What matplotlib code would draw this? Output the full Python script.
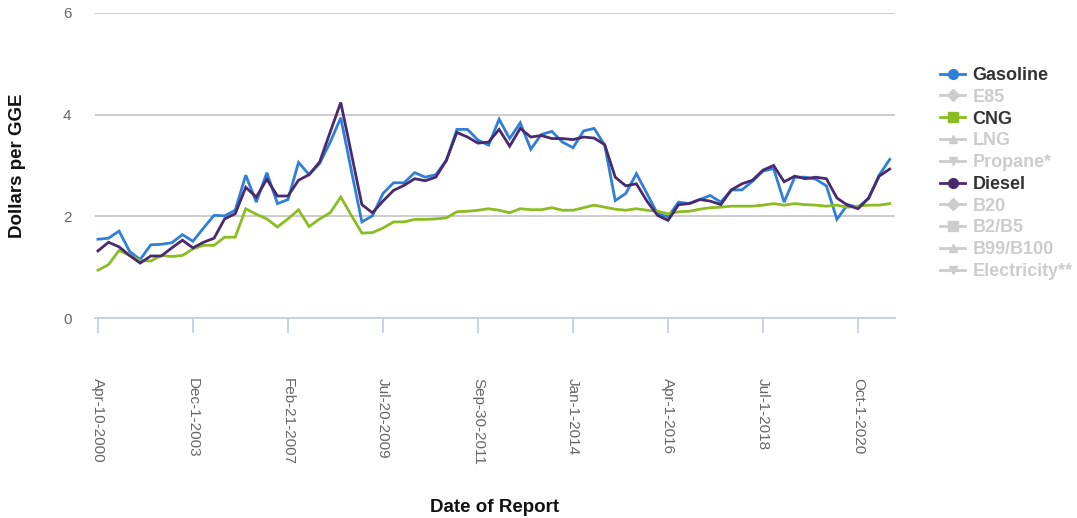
import numpy as np
import matplotlib
matplotlib.use("Agg")
import matplotlib.pyplot as plt
from matplotlib.lines import Line2D

plt.rcParams['font.family'] = ['Liberation Sans', 'DejaVu Sans']

# Alternative fuel price report, dollars per gasoline gallon equivalent
tick_labels = ["Apr-10-2000", "Dec-1-2003", "Feb-21-2007", "Jul-20-2009", "Sep-30-2011",
               "Jan-1-2014", "Apr-1-2016", "Jul-1-2018", "Oct-1-2020"]
tick_step = 9

gasoline = [1.55, 1.57, 1.71, 1.31, 1.15, 1.44, 1.45, 1.48, 1.64, 1.51,
            1.77, 2.02, 2.01, 2.12, 2.81, 2.28, 2.86, 2.25, 2.33, 3.06,
            2.82, 3.04, 3.46, 3.94, 2.90, 1.89, 2.01, 2.45, 2.66, 2.66,
            2.86, 2.77, 2.82, 3.10, 3.71, 3.71, 3.50, 3.40, 3.91, 3.53,
            3.84, 3.32, 3.61, 3.67, 3.46, 3.35, 3.68, 3.73, 3.40, 2.31,
            2.45, 2.84, 2.45, 2.05, 1.99, 2.28, 2.25, 2.33, 2.41, 2.28,
            2.52, 2.52, 2.69, 2.89, 2.94, 2.28, 2.77, 2.77, 2.73, 2.60,
            1.94, 2.23, 2.18, 2.35, 2.81, 3.12]

cng = [0.94, 1.05, 1.33, 1.23, 1.13, 1.12, 1.23, 1.21, 1.23, 1.36,
       1.43, 1.43, 1.59, 1.59, 2.15, 2.04, 1.95, 1.79, 1.95, 2.13,
       1.80, 1.95, 2.07, 2.38, 2.02, 1.67, 1.68, 1.77, 1.89, 1.89,
       1.94, 1.94, 1.95, 1.97, 2.09, 2.10, 2.12, 2.15, 2.12, 2.07,
       2.15, 2.13, 2.13, 2.17, 2.12, 2.12, 2.17, 2.22, 2.18, 2.14,
       2.12, 2.15, 2.12, 2.10, 2.05, 2.09, 2.10, 2.14, 2.17, 2.18,
       2.20, 2.20, 2.20, 2.22, 2.25, 2.22, 2.25, 2.23, 2.22, 2.20,
       2.22, 2.18, 2.20, 2.22, 2.22, 2.25]

diesel = [1.32, 1.49, 1.40, 1.23, 1.08, 1.22, 1.22, 1.38, 1.53, 1.38,
          1.49, 1.57, 1.95, 2.05, 2.57, 2.38, 2.73, 2.40, 2.40, 2.71,
          2.82, 3.07, 3.66, 4.24, 3.24, 2.23, 2.07, 2.30, 2.51, 2.61,
          2.74, 2.70, 2.77, 3.10, 3.65, 3.56, 3.44, 3.46, 3.71, 3.38,
          3.73, 3.56, 3.59, 3.53, 3.53, 3.51, 3.56, 3.54, 3.41, 2.77,
          2.60, 2.64, 2.30, 2.02, 1.92, 2.23, 2.25, 2.33, 2.30, 2.23,
          2.52, 2.64, 2.71, 2.91, 3.00, 2.68, 2.79, 2.74, 2.77, 2.74,
          2.36, 2.22, 2.15, 2.36, 2.79, 2.93]

legend_names = ["Gasoline", "E85", "CNG", "LNG", "Propane*", "Diesel",
                "B20", "B2/B5", "B99/B100", "Electricity**"]
legend_markers = ["o", "D", "s", "^", "v", "o", "D", "s", "^", "v"]
legend_colors = {"Gasoline": "#2f7ed8", "CNG": "#8bbc21", "Diesel": "#492970"}
hidden_color = "#cccccc"

W, H = 1077, 518
fig = plt.figure(figsize=(W / 100, H / 100), dpi=100)
ax = fig.add_axes([95 / W, 1 - 318 / H, 800 / W, 305 / H])

x = np.arange(len(gasoline))
ax.plot(x, gasoline, color=legend_colors["Gasoline"], lw=2.0, solid_joinstyle='miter', zorder=3)
ax.plot(x, cng, color=legend_colors["CNG"], lw=2.0, solid_joinstyle='miter', zorder=3)
ax.plot(x, diesel, color=legend_colors["Diesel"], lw=2.0, solid_joinstyle='miter', zorder=4)

ax.set_xlim(-0.28, 75.5)
ax.set_ylim(0, 6)
ax.set_yticks([0, 2, 4, 6])
ax.yaxis.grid(True, color="#c8c8c8", lw=1.3)
ax.set_axisbelow(True)
for side in ["top", "right", "left"]:
    ax.spines[side].set_visible(False)
ax.spines["bottom"].set_color("#c0d0e0")
ax.spines["bottom"].set_linewidth(1.3)

ax.set_xticks(np.arange(len(tick_labels)) * tick_step)
ax.set_xticklabels(tick_labels, rotation=-90, ha="center", va="top")
ax.tick_params(axis="x", colors="#c0d0e0", length=11, width=1.3, pad=32,
               labelcolor="#666666", labelsize=11)
ax.tick_params(axis="y", length=0, pad=17, labelcolor="#666666", labelsize=11)

fig.text(18 / W, 1 - 165.5 / H, "Dollars per GGE", rotation=90, ha="center", va="center",
         fontsize=13.5, fontweight="bold", color="#111111")
fig.text(495 / W, 1 - 508 / H, "Date of Report", ha="center", va="center",
         fontsize=13.5, fontweight="bold", color="#111111")

handles = []
for name, mk in zip(legend_names, legend_markers):
    c = legend_colors.get(name, hidden_color)
    ms = 7 if mk in ("o", "s") else 6
    handles.append(Line2D([], [], color=c, lw=2.0, marker=mk, markersize=ms))
leg = fig.legend(handles, legend_names, loc="upper left", bbox_to_anchor=(940 / W, 1 - 67 / H),
                 frameon=False, borderpad=0, borderaxespad=0, handlelength=1.4,
                 handletextpad=0.4, labelspacing=0.265,
                 prop={"weight": "bold", "size": 13})
for txt, name in zip(leg.get_texts(), legend_names):
    txt.set_color("#333333" if name in legend_colors else hidden_color)

fig.savefig("out.png", dpi=100)
